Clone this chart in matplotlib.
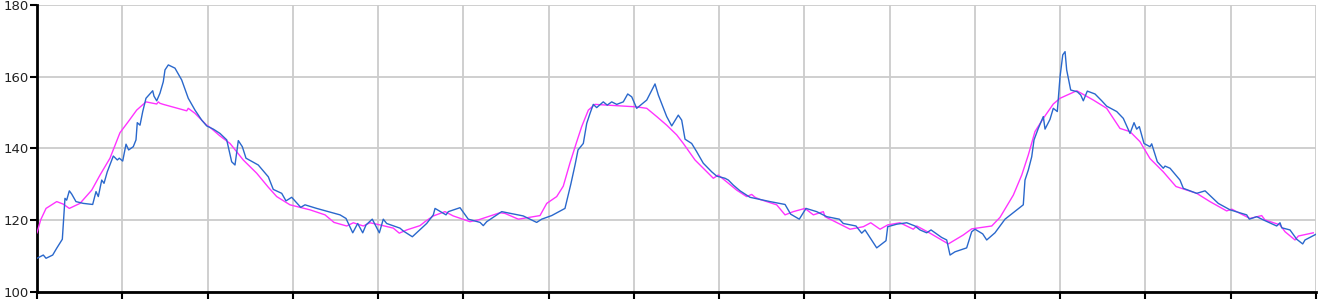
import matplotlib
matplotlib.use("Agg")
from matplotlib import pyplot as plt

# readings taken off the chart (x in grid units, 10 per grid cell)
blue_x = [0.0, 0.74, 1.06, 1.84, 2.31, 2.97, 3.28, 3.48, 3.79, 4.07, 4.57, 5.43, 6.53, 6.92, 7.19,
          7.59, 7.86, 8.24, 8.95, 9.42, 9.65, 10.05, 10.44, 10.75, 11.29, 11.61, 11.76, 12.08, 12.40,
          12.78, 13.57, 13.72, 14.04, 14.42, 14.81, 15.01, 15.40, 16.18, 16.97, 17.74, 18.53, 19.32,
          19.90, 20.68, 21.46, 22.25, 22.83, 23.22, 23.61, 24.08, 24.51, 25.95, 27.13, 27.71, 28.70,
          29.20, 29.87, 30.93, 31.43, 32.80, 35.54, 36.24, 37.03, 37.61, 38.20, 38.59, 39.32, 40.15,
          40.61, 41.01, 42.57, 42.96, 44.02, 45.70, 46.48, 46.68, 47.97, 48.24, 49.61, 50.58, 51.96,
          52.34, 52.74, 54.50, 57.03, 58.60, 59.19, 60.36, 61.92, 62.60, 63.10, 63.45, 64.07, 64.47,
          64.86, 65.24, 65.64, 66.41, 66.88, 67.40, 67.99, 68.76, 69.28, 69.75, 70.33, 71.51, 72.48,
          72.87, 73.85, 74.44, 75.21, 75.61, 76.00, 76.78, 77.37, 78.14, 79.13, 79.72, 80.69, 81.08,
          81.66, 82.45, 83.62, 84.80, 85.97, 87.73, 88.39, 89.40, 90.19, 91.44, 92.62, 94.09, 94.56,
          96.05, 96.72, 97.11, 98.48, 99.57, 99.77, 100.83, 102.00, 102.97, 103.56, 104.34, 104.85,
          106.10, 106.69, 107.08, 107.66, 109.03, 109.62, 110.01, 110.91, 111.38, 112.35, 113.53,
          115.67, 115.87, 116.26, 116.66, 116.93, 117.43, 118.02, 118.22, 118.80, 119.19, 119.66,
          119.98, 120.30, 120.57, 120.76, 121.23, 122.01, 122.41, 122.71, 123.18, 124.08, 124.87,
          125.45, 126.63, 127.40, 128.19, 128.66, 128.97, 129.28, 129.83, 130.53, 130.73, 131.39,
          132.09, 132.29, 132.88, 134.05, 134.44, 136.01, 136.99, 138.54, 139.92, 141.87, 142.18,
          143.05, 143.82, 145.39, 145.78, 145.98, 146.95, 147.74, 148.44, 148.71, 150.0]
blue_y = [109.4, 110.3, 109.4, 110.3, 112.2, 114.7, 126.1, 125.6, 128.2, 127.3, 125.2, 124.7, 124.4,
          128.0, 126.6, 131.2, 130.3, 133.5, 137.9, 136.8, 137.3, 136.5, 141.2, 139.6, 140.5, 142.4,
          147.2, 146.5, 150.3, 154.0, 156.1, 154.6, 153.3, 155.4, 158.6, 161.9, 163.3, 162.4, 159.1,
          154.0, 150.7, 147.9, 146.3, 145.4, 144.2, 142.4, 136.3, 135.4, 142.2, 140.5, 137.3, 135.4,
          132.1, 128.6, 127.5, 125.4, 126.4, 123.6, 124.3, 123.3, 121.5, 120.5, 116.5, 119.1, 116.5,
          118.7, 120.3, 116.5, 120.3, 119.1, 117.8, 117.0, 115.4, 119.1, 121.5, 123.3, 121.5, 122.4,
          123.5, 120.3, 119.4, 118.5, 119.6, 122.4, 121.2, 119.4, 120.3, 121.3, 123.3, 130.0, 135.4,
          139.6, 141.4, 147.0, 149.8, 152.3, 151.4, 153.0, 152.1, 153.0, 152.3, 153.0, 155.2, 154.4,
          151.2, 153.5, 158.0, 154.9, 148.9, 146.3, 149.3, 147.9, 142.6, 141.4, 139.1, 135.9, 133.5,
          132.3, 131.7, 131.2, 129.8, 128.2, 126.4, 125.8, 125.2, 124.4, 121.7, 120.3, 123.3, 122.4,
          121.0, 120.3, 119.1, 118.4, 116.4, 117.3, 112.3, 114.3, 118.2, 118.9, 119.3, 118.4, 117.3,
          116.5, 117.3, 115.2, 114.5, 110.3, 111.2, 112.3, 116.8, 117.5, 116.2, 114.5, 116.5, 120.3,
          124.3, 131.2, 134.0, 137.7, 142.4, 145.6, 148.9, 145.4, 148.1, 151.2, 150.3, 160.0, 166.1,
          167.0, 161.9, 156.3, 155.8, 154.9, 153.3, 156.0, 155.2, 153.3, 151.8, 150.3, 148.4, 144.2,
          147.2, 145.4, 146.1, 141.4, 140.5, 141.3, 136.3, 134.5, 135.1, 134.5, 131.2, 128.9, 127.5,
          128.2, 124.7, 122.9, 121.5, 120.3, 121.0, 120.1, 118.4, 119.3, 117.9, 117.3, 114.7, 113.4,
          114.5, 116.1]

pink_x = [0.0, 0.43, 1.06, 2.31, 3.08, 3.79, 5.04, 6.42, 7.39, 8.56, 9.73, 10.71, 11.69, 12.78,
          14.04, 14.23, 14.42, 14.81, 17.56, 17.74, 18.53, 19.90, 20.29, 21.46, 22.64, 24.19, 25.77,
          27.13, 28.11, 29.67, 32.02, 33.78, 34.83, 36.32, 37.10, 38.27, 39.05, 40.23, 41.79, 42.49,
          43.36, 44.92, 45.50, 46.48, 47.85, 48.82, 50.78, 51.76, 54.30, 54.89, 56.45, 58.99, 59.78,
          60.95, 61.72, 62.51, 63.30, 63.88, 64.66, 65.44, 70.33, 71.51, 72.68, 73.85, 75.02, 75.80,
          77.17, 78.14, 79.32, 79.90, 80.89, 82.06, 83.23, 83.82, 84.21, 84.80, 86.75, 87.73, 88.70,
          90.07, 91.05, 92.22, 92.42, 95.35, 96.91, 97.78, 98.87, 99.77, 101.21, 102.77, 103.17,
          104.73, 106.88, 108.64, 109.62, 111.97, 112.94, 114.50, 115.49, 116.26, 117.04, 118.02,
          119.19, 119.98, 121.94, 123.89, 125.45, 127.01, 128.19, 129.36, 130.53, 132.09, 133.58,
          136.01, 137.56, 139.52, 140.11, 142.25, 143.63, 144.01, 145.78, 146.37, 147.54, 147.93,
          149.68]
pink_y = [116.5, 120.1, 123.3, 125.2, 124.5, 123.3, 124.7, 128.4, 132.6, 137.3, 144.4, 147.5, 150.7,
          153.0, 152.4, 153.0, 152.6, 152.3, 150.5, 151.2, 149.8, 146.5, 145.9, 143.5, 141.4, 136.8,
          133.1, 129.2, 126.6, 124.3, 122.9, 121.5, 119.4, 118.4, 119.3, 118.4, 119.3, 118.7, 117.8,
          116.4, 117.3, 118.5, 119.6, 121.2, 122.4, 121.2, 119.6, 120.1, 122.1, 121.9, 120.3, 121.3,
          124.7, 126.6, 129.5, 136.0, 141.9, 146.1, 150.7, 152.3, 151.6, 151.2, 148.9, 146.5, 143.8,
          141.4, 136.8, 134.5, 131.7, 132.6, 130.7, 128.4, 126.6, 127.2, 126.4, 125.8, 124.3, 121.5,
          122.4, 123.3, 121.5, 122.4, 121.0, 117.5, 118.2, 119.3, 117.5, 118.7, 119.3, 117.5, 118.4,
          116.4, 113.4, 115.9, 117.6, 118.4, 120.8, 127.0, 132.6, 138.2, 144.7, 148.4, 152.4, 154.0,
          156.1, 153.5, 151.2, 145.6, 144.7, 141.9, 137.2, 133.5, 129.4, 127.5, 125.2, 122.6, 123.1,
          120.5, 121.3, 120.1, 118.7, 116.8, 114.5, 115.6, 116.5]

fig = plt.figure(figsize=(13.18, 2.99), dpi=100)
ax = fig.add_axes([37 / 1318, 1 - 292 / 299, 1279 / 1318, 287 / 299])

ax.plot(pink_x, pink_y, color="#ff33ff", lw=1.0, zorder=3)
ax.plot(blue_x, blue_y, color="#2a68cc", lw=1.0, zorder=4)

ax.set_xlim(0, 150)
ax.set_ylim(100, 180)
ax.set_xticks(range(0, 151, 10))
ax.set_xticklabels([])
ax.set_yticks([100, 120, 140, 160, 180])
ax.grid(True, color="#cccccc", lw=1.3)
ax.set_axisbelow(True)

for s in ["top", "right"]:
    ax.spines[s].set_visible(False)
for s in ["left", "bottom"]:
    ax.spines[s].set_linewidth(2)
    ax.spines[s].set_color("black")
ax.tick_params(axis="both", direction="out", length=5, width=1.5, colors="black",
               labelsize=9.5, labelcolor="#222222")
ax.tick_params(axis="y", pad=1)

fig.savefig("out.png", dpi=100)
